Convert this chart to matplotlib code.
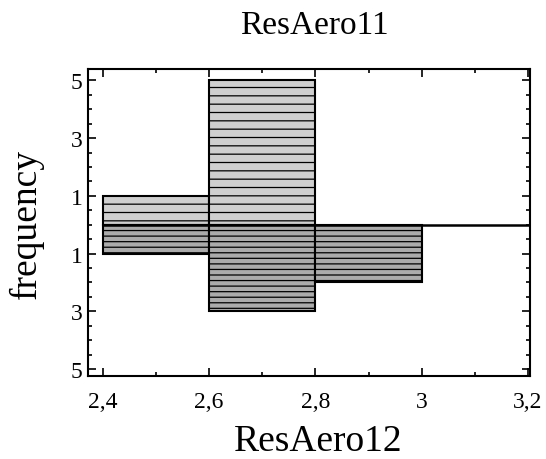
import matplotlib
matplotlib.use("Agg")
import matplotlib.pyplot as plt
from matplotlib.ticker import MultipleLocator

bin_edges = [2.4, 2.6, 2.8, 3.0, 3.2]
freq_top = [1, 5, 0, 0]      # ResAero11
freq_bottom = [1, 3, 2, 0]   # ResAero12
ytick_vals = [5, 3, 1, -1, -3, -5]
ytick_labels = ["5", "3", "1", "1", "3", "5"]
xtick_vals = [2.4, 2.6, 2.8, 3.0, 3.2]
xtick_labels = ["2,4", "2,6", "2,8", "3", "3,2"]

plt.rcParams['font.family'] = ['Liberation Serif', 'DejaVu Serif']
plt.rcParams['hatch.color'] = '#444444'
plt.rcParams['hatch.linewidth'] = 0.9

fig = plt.figure(figsize=(5.46, 4.6), dpi=100)
ax = fig.add_axes([0.161, 0.180, 0.810, 0.668])

widths = [bin_edges[i+1] - bin_edges[i] for i in range(len(freq_top))]
lefts = bin_edges[:-1]
for l, w, h in zip(lefts, widths, freq_top):
    if h > 0:
        ax.bar(l, h, width=w, align='edge', color='#cfcfcf', edgecolor='black',
               linewidth=1.5, hatch='--', zorder=2)
for l, w, h in zip(lefts, widths, freq_bottom):
    if h > 0:
        ax.bar(l, -h, width=w, align='edge', color='#ababab', edgecolor='black',
               linewidth=1.5, hatch='---', zorder=2)
ax.plot([bin_edges[0], bin_edges[-1]], [0, 0], color='black', linewidth=1.8, zorder=3)

ax.set_xlim(2.372, 3.204)
ax.set_ylim(-5.25, 5.4)
ax.set_xticks(xtick_vals)
ax.set_xticklabels(xtick_labels, fontsize=17)
ax.set_yticks(ytick_vals)
ax.set_yticklabels(ytick_labels, fontsize=17)
ax.yaxis.set_minor_locator(MultipleLocator(0.5))
ax.xaxis.set_minor_locator(MultipleLocator(0.1))
ax.tick_params(which='both', direction='in', right=True, top=True, width=1.2)
ax.tick_params(which='major', length=6)
ax.tick_params(which='minor', length=3)
ax.tick_params(axis='x', which='major', pad=11)
ax.tick_params(axis='y', which='major', pad=4)
for s in ax.spines.values():
    s.set_linewidth(1.5)

ax.set_title("ResAero11", fontsize=24, pad=26, x=0.511)
ax.set_xlabel("ResAero12", fontsize=27, labelpad=12)
ax.xaxis.set_label_coords(0.52, -0.155, transform=ax.transAxes)
ax.xaxis.label.set_va('top')
ax.set_ylabel("frequency", fontsize=27, labelpad=19)

fig.savefig("out.png", dpi=100)
